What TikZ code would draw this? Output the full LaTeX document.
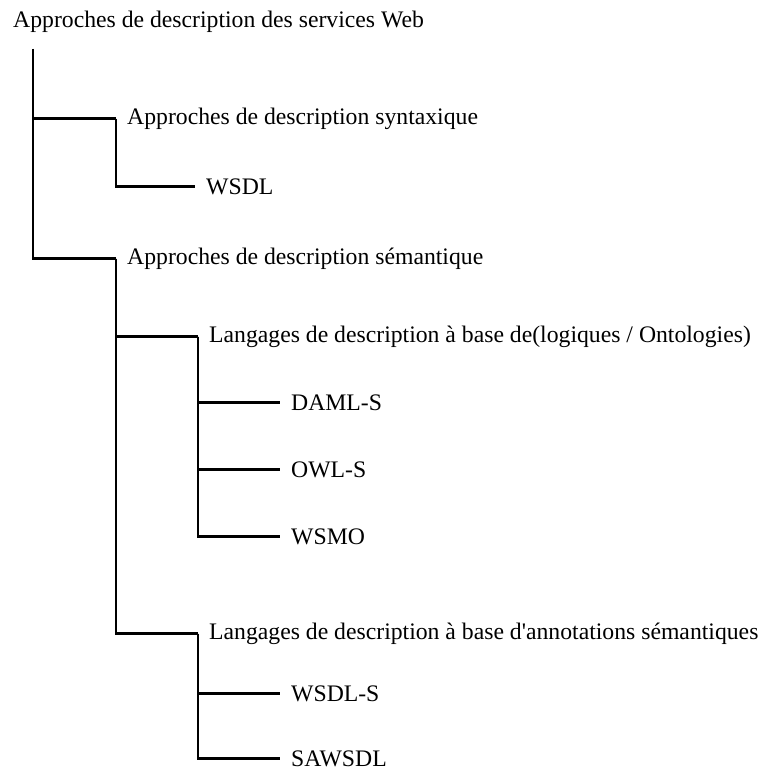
\documentclass[tikz,border=0pt]{standalone}
\usepackage{fontspec}
\setmainfont{Liberation Serif}
\usepackage{tikz}

\begin{document}
\begin{tikzpicture}[x=1pt,y=-1pt,
  item/.style={anchor=mid west,inner xsep=11pt,inner ysep=0pt,font=\fontsize{23.7}{28}\selectfont},
  branch/.style={line width=2.4pt}]
 \useasboundingbox (0,0) rectangle (764,770);
 \node[item] (root) at (2,25) {Approches de description des services Web};
 \coordinate (t0) at (33,49);
 \node[item] (syn) at (116,122) {Approches de description syntaxique};
 \node[item] (wsdl) at (195,192) {WSDL};
 \node[item] (sem) at (116,262) {Approches de description s\'emantique};
 \node[item] (logi) at (198,340) {Langages de description \`a base de(logiques / Ontologies)};
 \node[item] (daml) at (280,408) {DAML-S};
 \node[item] (owl) at (280,475) {OWL-S};
 \node[item] (wsmo) at (280,542) {WSMO};
 \node[item] (anno) at (198,637) {Langages de description \`a base d\textquotesingle annotations s\'emantiques};
 \node[item] (wsdls) at (280,699) {WSDL-S};
 \node[item] (sawsdl) at (280,764) {SAWSDL};
 %%%%%%%%%%%%%%%%%%%%%%%%%%%%%%%%%%%
 \draw[branch] (t0) |- (syn.west);
 \draw[branch] (t0) |- (sem.west);
 \draw[branch] (syn.west) |- (wsdl.west);
 \draw[branch] (sem.west) |- (logi.west);
 \draw[branch] (sem.west) |- (anno.west);
 \draw[branch] (logi.west) |- (daml.west);
 \draw[branch] (logi.west) |- (owl.west);
 \draw[branch] (logi.west) |- (wsmo.west);
 \draw[branch] (anno.west) |- (wsdls.west);
 \draw[branch] (anno.west) |- (sawsdl.west);
\end{tikzpicture}
\end{document}
